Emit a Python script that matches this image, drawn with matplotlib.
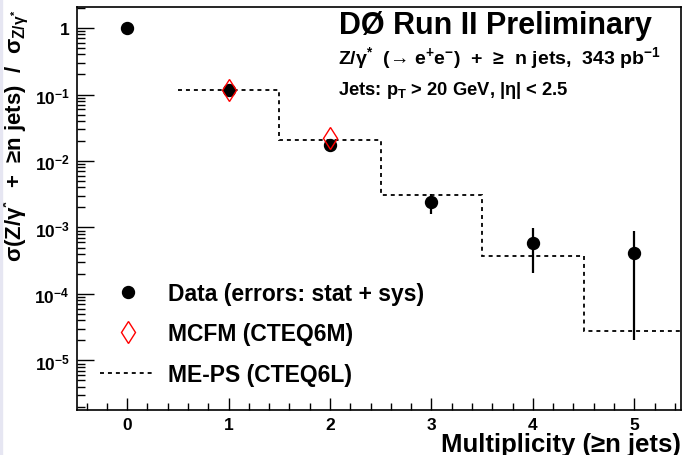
import matplotlib
matplotlib.use('Agg')
import matplotlib.pyplot as plt
from matplotlib.lines import Line2D
from matplotlib.patches import Rectangle
from matplotlib.ticker import FixedLocator, FixedFormatter, MultipleLocator, LogLocator, NullFormatter

plt.rcParams['font.family'] = ['Liberation Sans', 'DejaVu Sans']
plt.rcParams['font.weight'] = 'bold'
plt.rcParams['mathtext.fontset'] = 'custom'
plt.rcParams['mathtext.rm'] = 'Liberation Sans:bold'
plt.rcParams['mathtext.it'] = 'Liberation Sans:italic:bold'
plt.rcParams['mathtext.bf'] = 'Liberation Sans:bold'
plt.rcParams['mathtext.sf'] = 'Liberation Sans:bold'
plt.rcParams['mathtext.fallback'] = 'stixsans'

# data
n_jets = [0, 1, 2, 3, 4, 5]
data_ratio = [1.0, 0.116, 0.0176, 0.0024, 5.8e-4, 4.1e-4]
err_low = [0.0, 0.012, 0.004, 0.0008, 3.7e-4, 3.9e-4]
err_high = [0.0, 0.012, 0.004, 0.0008, 4.0e-4, 4.8e-4]

mcfm_n = [1, 2]
mcfm_ratio = [0.118, 0.0225]

meps_edges = [0.5, 1.5, 2.5, 3.5, 4.5, 5.5]
meps_ratio = [0.116, 0.0205, 0.0031, 3.7e-4, 2.8e-5]

ytick_vals = [1e-5, 1e-4, 1e-3, 1e-2, 1e-1, 1]
ytick_labels = ['$10^{-5}$', '$10^{-4}$', '$10^{-3}$', '$10^{-2}$', '$10^{-1}$', '1']

fig = plt.figure(figsize=(6.84, 4.56), dpi=100)
fig.patches.append(Rectangle((0, 0), 2 / 684, 1, transform=fig.transFigure,
                             color='#e6e6f2', zorder=0))
ax = fig.add_axes([76.5 / 684, 1 - 411 / 456, (681 - 76.5) / 684, (411 - 8) / 456])

# ME-PS histogram
ax.stairs(meps_ratio, meps_edges, baseline=None, color='black',
          linestyle=(0, (2.2, 2.2)), lw=1.3, label='ME-PS (CTEQ6L)')

# data
ax.errorbar(n_jets, data_ratio, yerr=[err_low, err_high], fmt='o', color='black',
            ms=8.6, elinewidth=1.6, capsize=0, zorder=3)

# MCFM
ax.plot(mcfm_n, mcfm_ratio, linestyle='none', marker='d', ms=11.5, mfc='none',
        mec='red', mew=1.0, zorder=4)

ax.set_yscale('log')
ax.set_xlim(-0.5, 5.46)
ax.set_ylim(1.8e-6, 2.07)

ax.yaxis.set_major_locator(FixedLocator(ytick_vals))
ax.yaxis.set_major_formatter(FixedFormatter(ytick_labels))
ax.yaxis.set_minor_locator(LogLocator(base=10, subs=range(2, 10), numticks=20))
ax.yaxis.set_minor_formatter(NullFormatter())
ax.xaxis.set_major_locator(MultipleLocator(1))
ax.xaxis.set_minor_locator(MultipleLocator(0.2))

ax.tick_params(axis='both', which='both', direction='in', top=False, right=False,
               labelsize=12.5, width=1.0)
ax.tick_params(axis='y', which='major', length=12.5, pad=5)
ax.tick_params(axis='y', which='minor', length=6)
ax.tick_params(axis='x', which='major', length=9, pad=5)
ax.tick_params(axis='x', which='minor', length=5)
for s in ax.spines.values():
    s.set_linewidth(1.2)

ax.set_xlabel('Multiplicity (≥n jets)', fontsize=18.5, fontweight='bold', loc='right',
              labelpad=0)
ax.set_ylabel('σ(Z/γ$^{*}$  +  ≥n jets)  /  σ$_{\\mathrm{Z/γ^{*}}}$',
              fontsize=16, fontweight='bold', loc='top')
ax.yaxis.set_label_coords((31 - 76.5) / 604.5, 0.995)

fig.text(339 / 684, 1 - 34 / 456, 'DØ Run II Preliminary', fontsize=22,
         fontweight='bold', ha='left', va='baseline')
fig.text(338 / 684, 1 - 64 / 456,
         'Z/γ$^{*}$  (→ e$^{+}$e$^{-}$)  +  ≥  n jets,  343 pb$^{-1}$',
         fontsize=14, fontweight='bold', ha='left', va='baseline')
fig.text(338 / 684, 1 - 95 / 456, 'Jets: p$_{\\mathrm{T}}$ > 20 GeV, |η| < 2.5',
         fontsize=13.2, fontweight='bold', ha='left', va='baseline')

handles = [
    Line2D([], [], linestyle='none', marker='o', color='black', ms=8.6),
    Line2D([], [], linestyle='none', marker='d', ms=11.5, mfc='none', mec='red', mew=1.0),
    Line2D([], [], color='black', linestyle=(0, (2.2, 2.2)), lw=1.3),
]
labels = ['Data (errors: stat + sys)', 'MCFM (CTEQ6M)', 'ME-PS (CTEQ6L)']
fig.legend(handles, labels, loc='upper left', bbox_to_anchor=(100 / 684, 1 - 283 / 456),
           frameon=False, handlelength=2.4, handletextpad=0.57,
           labelspacing=0.76, borderpad=0, borderaxespad=0,
           prop={'weight': 'bold', 'size': 16.5})

fig.savefig('out.png', dpi=100)
